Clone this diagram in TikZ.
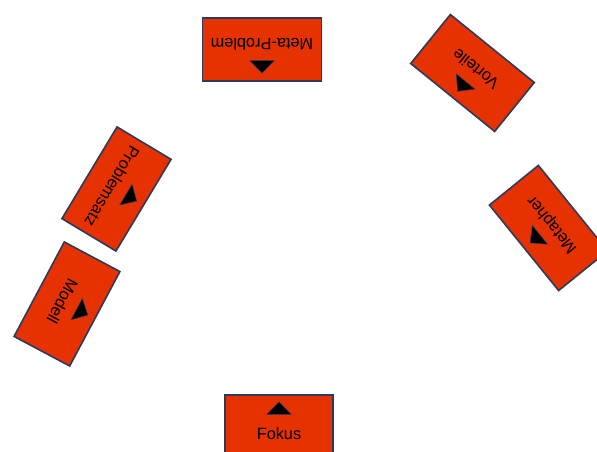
\documentclass[tikz,border=0pt]{standalone}
\usepackage{fontspec}
\setmainfont{Liberation Sans}
\usepackage{xcolor}
\usepackage{tikz}
\definecolor{kartenrot}{RGB}{230,49,0}
\definecolor{kartenrand}{RGB}{44,58,92}
\tikzset{
  karte/.style={rectangle, fill=kartenrot, draw=kartenrand, line width=1.6pt, minimum width=108pt, minimum height=63pt, inner sep=0pt},
  marke/.style={fill=black, draw=kartenrand, line width=0.5pt},
  beschr/.style={font=\fontsize{16.3}{19}\selectfont, inner sep=0pt, text=black},
  ring/.style={x=1pt, y=1pt}
}
\begin{document}
\begin{tikzpicture}[ring]
  \useasboundingbox (0,0) rectangle (597,452);
  % oben
  \begin{scope}[shift={(262,402.3)}, rotate=180, transform shape]
    \node[karte, minimum width=119pt] (meta) at (0,0) {};
    \fill[marke] (-12,11) -- (12,11) -- (0,23.5) -- cycle;
    \node[beschr] (meta-l) at (0,-5) {Meta-Problem};
  \end{scope}
  % rechts oben
  \begin{scope}[shift={(472.5,379)}, rotate=141, transform shape]
    \node[karte] (vort) at (0,0) {};
    \fill[marke] (-12,11) -- (12,11) -- (0,23.5) -- cycle;
    \node[beschr] (vort-l) at (0,-5) {Vorteile};
  \end{scope}
  % rechts
  \begin{scope}[shift={(548.5,224)}, rotate=129, transform shape]
    \node[karte, minimum width=110pt] (meph) at (0,0) {};
    \fill[marke] (-12,11) -- (12,11) -- (0,23.5) -- cycle;
    \node[beschr] (meph-l) at (0,-5) {Metapher};
  \end{scope}
  % unten
  \begin{scope}[shift={(279,25.2)}, transform shape]
    \node[karte] (foku) at (0,0) {};
    \fill[marke] (-12,12.5) -- (12,12.5) -- (0,25) -- cycle;
    \node[beschr] (foku-l) at (0,-6.5) {Fokus};
  \end{scope}
  % links unten
  \begin{scope}[shift={(67,148)}, rotate=-118, transform shape]
    \node[karte, minimum width=107pt] (mode) at (0,0) {};
    \fill[marke] (-12,11) -- (12,11) -- (0,23.5) -- cycle;
    \node[beschr] (mode-l) at (0,-5) {Modell};
  \end{scope}
  % links oben
  \begin{scope}[shift={(116.5,263)}, rotate=-121, transform shape]
    \node[karte, minimum width=107pt] (prob) at (0,0) {};
    \fill[marke] (-12,11) -- (12,11) -- (0,23.5) -- cycle;
    \node[beschr] (prob-l) at (0,-5) {Problemsatz};
  \end{scope}
\end{tikzpicture}
\end{document}
